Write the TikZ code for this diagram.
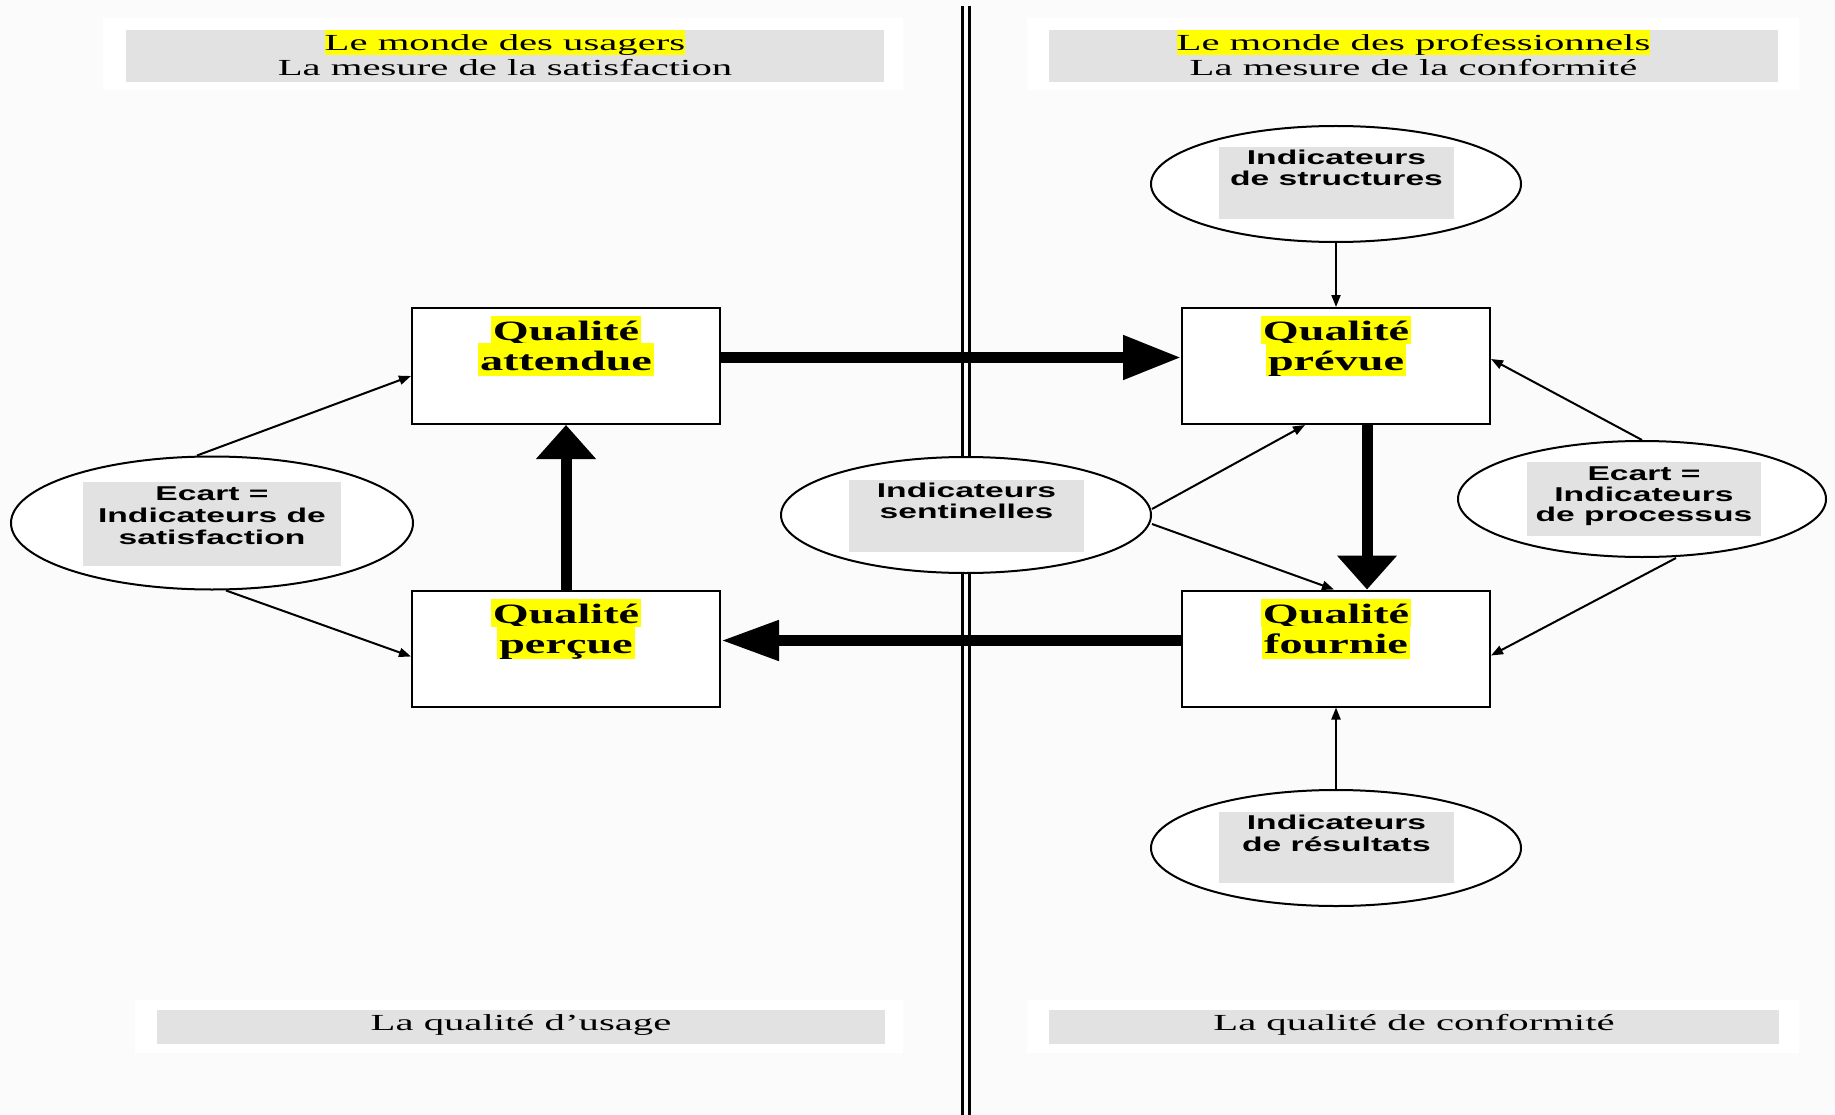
\documentclass[tikz,border=0pt]{standalone}
\usepackage{fontspec}
\usetikzlibrary{arrows.meta,shapes.geometric,calc}
\newfontfamily\serifw[FakeStretch=1.77]{Liberation Serif}
\newfontfamily\qfont[FakeStretch=1.65]{Liberation Serif}
\newfontfamily\sansw[FakeStretch=1.68]{Liberation Sans}
\definecolor{lgray}{RGB}{226,226,226}
\definecolor{bgc}{RGB}{251,251,251}
\definecolor{hiyel}{RGB}{255,255,0}
\begin{document}
\begin{tikzpicture}[x=1pt,y=-1pt,
  plainrect/.style={rectangle,draw=none,inner sep=0,outer sep=0},
  whitepad/.style={plainrect,fill=white},
  graypad/.style={plainrect,fill=lgray},
  hdrtxt/.style={font=\serifw\fontsize{23}{25}\selectfont,inner sep=0,anchor=base},
  hdrhi/.style={hdrtxt,fill=hiyel,text height=21pt,text depth=4pt},
  qbox/.style={rectangle,draw,line width=2pt,fill=white,inner sep=0,minimum width=308pt,minimum height=116pt},
  qtxt/.style={font=\qfont\bfseries\fontsize{28}{30}\selectfont,inner xsep=2pt,inner ysep=0pt,anchor=base,fill=hiyel},
  oval/.style={ellipse,draw,line width=2pt,fill=white,inner sep=0},
  sanstxt/.style={font=\sansw\bfseries\fontsize{20}{22}\selectfont,inner sep=0,anchor=base},
  bigarrow/.style={line width=11pt},
  thinarrow/.style={line width=2pt,-{Triangle[length=12pt,width=9pt]}}
]
\useasboundingbox (0,0) rectangle (1835,1115);
\fill[bgc] (0,0) rectangle (1835,1115);

% header / footer pads
\node[whitepad,minimum width=800pt,minimum height=72pt] (hLw) at (503,54) {};
\node[graypad,minimum width=758pt,minimum height=52pt] (hLg) at (505,56) {};
\node[whitepad,minimum width=772pt,minimum height=72pt] (hRw) at (1413,54) {};
\node[graypad,minimum width=729pt,minimum height=52pt] (hRg) at (1413.5,56) {};
\node[whitepad,minimum width=768pt,minimum height=53pt] (fLw) at (519,1026.5) {};
\node[graypad,minimum width=728pt,minimum height=34pt] (fLg) at (521,1027) {};
\node[whitepad,minimum width=772pt,minimum height=53pt] (fRw) at (1413,1026.5) {};
\node[graypad,minimum width=730pt,minimum height=34pt] (fRg) at (1414,1027) {};

\node[hdrhi] (hL1) at (505,51) {Le monde des usagers};
\node[hdrtxt] (hL2) at (505,76) {La mesure de la satisfaction};
\node[hdrhi] (hR1) at (1413.5,51) {Le monde des professionnels};
\node[hdrtxt] (hR2) at (1413.5,76) {La mesure de la conformité};
\node[hdrtxt] (fL) at (521,1030) {La qualité d’usage};
\node[hdrtxt] (fR) at (1414,1030) {La qualité de conformité};

% vertical double line
\coordinate (vlT) at (966,6);
\coordinate (vlB) at (966,1115);
\draw[line width=3pt,double=bgc,double distance=4pt] (vlT) -- (vlB);

% quality boxes
\node[qbox] (att) at (566,366) {};
\node[qbox] (per) at (566,648.5) {};
\node[qbox] (pre) at (1336,366) {};
\node[qbox] (fou) at (1336,648.5) {};

\node[qtxt,text height=24pt,text depth=4pt] (att1) at (566,340) {Qualité};
\node[qtxt,text height=27pt,text depth=6pt] (att2) at (566,370) {attendue};
\node[qtxt,text height=24pt,text depth=4pt] (per1) at (566,623) {Qualité};
\node[qtxt,text height=27pt,text depth=6pt] (per2) at (566,653) {perçue};
\node[qtxt,text height=24pt,text depth=4pt] (pre1) at (1336,340) {Qualité};
\node[qtxt,text height=27pt,text depth=6pt] (pre2) at (1336,370) {prévue};
\node[qtxt,text height=24pt,text depth=4pt] (fou1) at (1336,623) {Qualité};
\node[qtxt,text height=27pt,text depth=6pt] (fou2) at (1336,653) {fournie};

% ellipses
\node[oval,minimum width=402pt,minimum height=133pt] (ecL) at (212,523) {};
\node[graypad,minimum width=258pt,minimum height=84pt] (ecLg) at (212,524) {};
\node[sanstxt] (ecL1) at (212,500) {Ecart =};
\node[sanstxt] (ecL2) at (212,522) {Indicateurs de};
\node[sanstxt] (ecL3) at (212,544) {satisfaction};

\node[oval,minimum width=370pt,minimum height=116pt] (sent) at (966,515) {};
\node[graypad,minimum width=235pt,minimum height=72pt] (sentg) at (966.5,516) {};
\node[sanstxt] (sent1) at (966.5,497) {Indicateurs};
\node[sanstxt] (sent2) at (966.5,518) {sentinelles};

\node[oval,minimum width=368pt,minimum height=116pt] (ecR) at (1642,499) {};
\node[graypad,minimum width=234pt,minimum height=74pt] (ecRg) at (1644,499) {};
\node[sanstxt] (ecR1) at (1644,480) {Ecart =};
\node[sanstxt] (ecR2) at (1644,501) {Indicateurs};
\node[sanstxt] (ecR3) at (1644,521) {de processus};

\node[oval,minimum width=370pt,minimum height=116pt] (str) at (1336,184) {};
\node[graypad,minimum width=235pt,minimum height=72pt] (strg) at (1336.5,183) {};
\node[sanstxt] (str1) at (1336.5,165) {Indicateurs};
\node[sanstxt] (str2) at (1336.5,186) {de structures};

\node[oval,minimum width=370pt,minimum height=116pt] (res) at (1336,848) {};
\node[graypad,minimum width=235pt,minimum height=71pt] (resg) at (1336.5,847.5) {};
\node[sanstxt] (res1) at (1336.5,829) {Indicateurs};
\node[sanstxt] (res2) at (1336.5,851) {de résultats};

% thick arrows
\coordinate (yTop) at (0,357.5);
\coordinate (yBot) at (0,640.5);
\coordinate (xDown) at (1367,0);
\draw[bigarrow,-{Triangle[length=58pt,width=42pt]}] (att.east |- yTop) -- (pre.west |- yTop);
\draw[bigarrow,-{Triangle[length=58pt,width=38pt]}] (fou.west |- yBot) -- (per.east |- yBot);
\draw[bigarrow,-{Triangle[length=34pt,width=58pt]}] (per.north) -- (att.south);
\draw[bigarrow,-{Triangle[length=34pt,width=58pt]}] (pre.south -| xDown) -- (fou.north -| xDown);

% thin arrows
\draw[thinarrow] ($(ecL.north)+(-15,0)$) -- ($(att.west)+(0,10)$);
\draw[thinarrow] ($(ecL.south)+(14,0)$) -- ($(per.west)+(0,8)$);
\draw[thinarrow] ($(sent.east)+(0,-6)$) -- ($(pre.south)+(-31,0)$);
\draw[thinarrow] ($(sent.east)+(0,9)$) -- ($(fou.north)+(-2,0)$);
\draw[thinarrow] (ecR.north) -- ($(pre.east)+(0,-7)$);
\draw[thinarrow] ($(ecR.south)+(34,0)$) -- ($(fou.east)+(0,7)$);
\draw[thinarrow] (str.south) -- (pre.north);
\draw[thinarrow] (res.north) -- (fou.south);
\end{tikzpicture}
\end{document}
